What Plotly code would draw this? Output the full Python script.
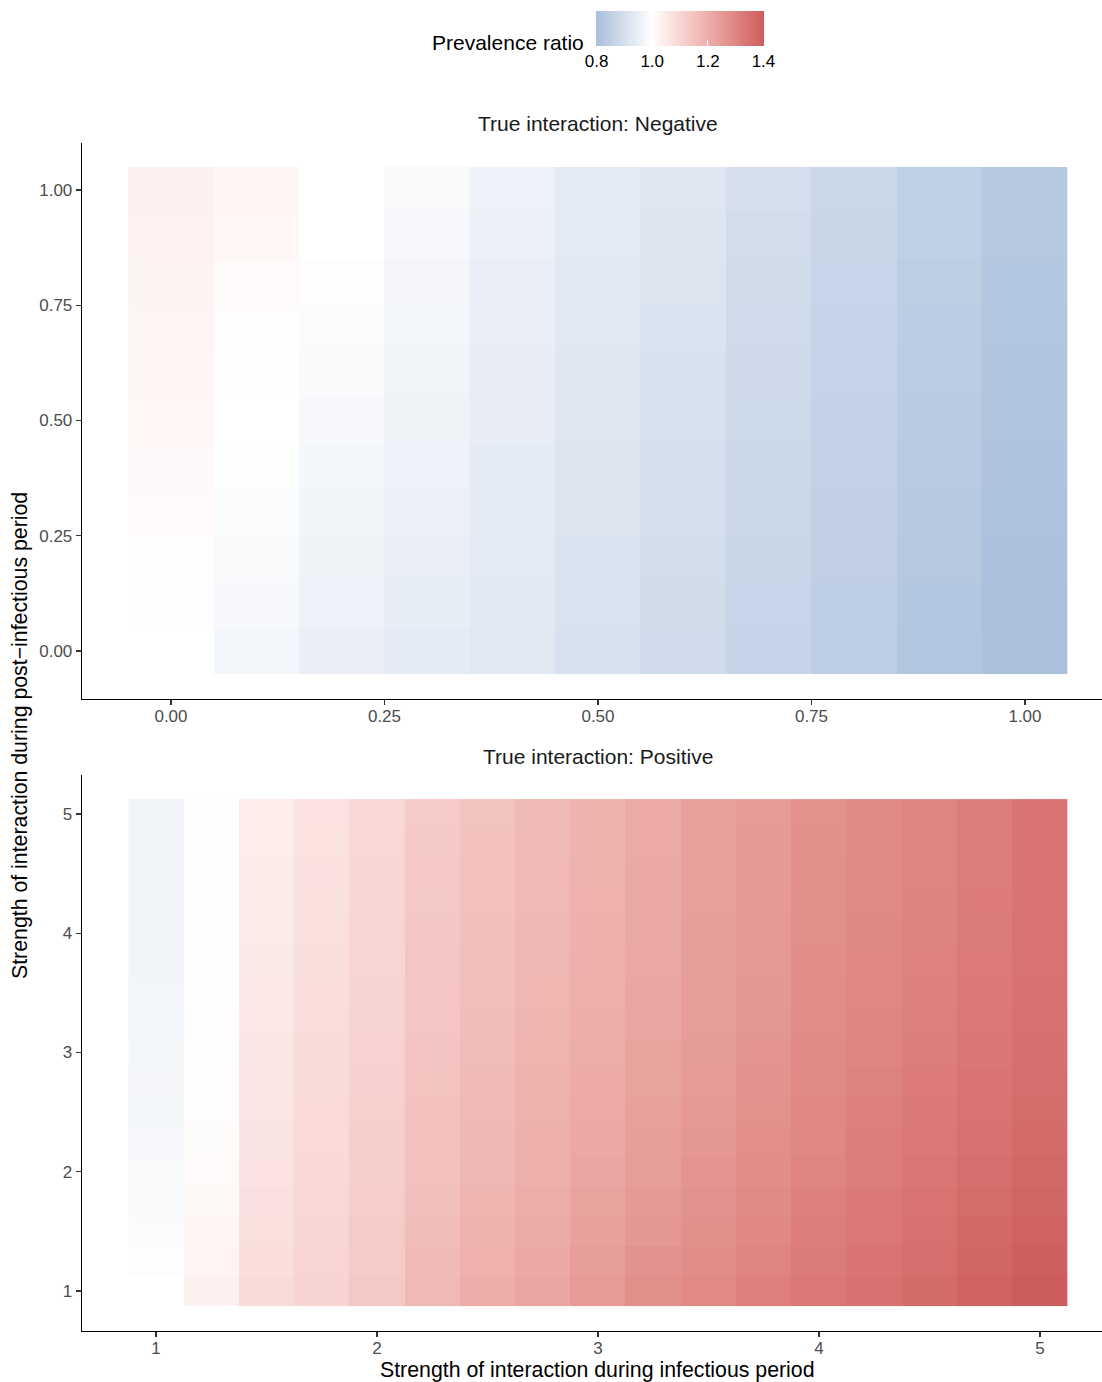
import plotly.graph_objects as go

# ---------------- data ----------------
# Top panel: True interaction Negative
neg_x = [0.0, 0.1, 0.2, 0.3, 0.4, 0.5, 0.6, 0.7, 0.8, 0.9, 1.0]
neg_y = [0.0, 0.1, 0.2, 0.3, 0.4, 0.5, 0.6, 0.7, 0.8, 0.9, 1.0]
# each list: values for one x column, from y=0.0 up to y=1.0
neg_x00 = [None, 1.004, 1.008, 1.012, 1.016, 1.020, 1.023, 1.026, 1.029, 1.032, 1.035]
neg_x01 = [0.972, 0.978, 0.984, 0.990, 0.995, 0.999, 1.003, 1.008, 1.012, 1.020, 1.023]
neg_x02 = [0.951, 0.957, 0.962, 0.967, 0.972, 0.978, 0.983, 0.988, 0.992, 1.000, 1.000]
neg_x03 = [0.940, 0.944, 0.948, 0.953, 0.957, 0.961, 0.965, 0.969, 0.973, 0.979, 0.981]
neg_x04 = [0.928, 0.931, 0.934, 0.937, 0.940, 0.943, 0.946, 0.949, 0.952, 0.955, 0.958]
neg_x05 = [0.907, 0.910, 0.913, 0.916, 0.920, 0.923, 0.927, 0.930, 0.933, 0.937, 0.940]
neg_x06 = [0.888, 0.891, 0.894, 0.898, 0.901, 0.905, 0.908, 0.912, 0.916, 0.919, 0.923]
neg_x07 = [0.865, 0.868, 0.871, 0.874, 0.877, 0.881, 0.884, 0.887, 0.891, 0.894, 0.898]
neg_x08 = [0.844, 0.847, 0.850, 0.853, 0.856, 0.859, 0.862, 0.865, 0.868, 0.871, 0.874]
neg_x09 = [0.821, 0.824, 0.827, 0.830, 0.833, 0.836, 0.839, 0.842, 0.845, 0.848, 0.851]
neg_x10 = [0.800, 0.803, 0.806, 0.809, 0.812, 0.815, 0.818, 0.821, 0.824, 0.827, 0.830]

# Bottom panel: True interaction Positive
pos_x = [1.0, 1.25, 1.5, 1.75, 2.0, 2.25, 2.5, 2.75, 3.0, 3.25, 3.5, 3.75, 4.0, 4.25, 4.5, 4.75, 5.0]
pos_y = [1.0, 1.25, 1.5, 1.75, 2.0, 2.25, 2.5, 2.75, 3.0, 3.25, 3.5, 3.75, 4.0, 4.25, 4.5, 4.75, 5.0]
# each list: values for one x column, from y=1 up to y=5
pos_x100 = [None, 0.992, 0.988, 0.984, 0.981, 0.978, 0.975, 0.973, 0.971, 0.969, 0.968, 0.967, 0.966, 0.965, 0.964, 0.964, 0.963]
pos_x125 = [1.035, 1.028, 1.022, 1.017, 1.013, 1.010, 1.008, 1.006, 1.005, 1.004, 1.003, 1.003, 1.003, 1.003, 1.003, 1.003, 1.003]
pos_x150 = [1.086, 1.082, 1.078, 1.074, 1.071, 1.068, 1.065, 1.063, 1.061, 1.059, 1.057, 1.055, 1.053, 1.051, 1.050, 1.048, 1.047]
pos_x175 = [1.108, 1.104, 1.100, 1.097, 1.094, 1.091, 1.089, 1.087, 1.085, 1.083, 1.081, 1.079, 1.077, 1.076, 1.074, 1.073, 1.072]
pos_x200 = [1.136, 1.131, 1.127, 1.123, 1.120, 1.117, 1.114, 1.112, 1.110, 1.108, 1.106, 1.104, 1.102, 1.100, 1.099, 1.097, 1.096]
pos_x225 = [1.173, 1.168, 1.163, 1.159, 1.156, 1.153, 1.150, 1.148, 1.146, 1.144, 1.142, 1.140, 1.138, 1.136, 1.134, 1.133, 1.131]
pos_x250 = [1.200, 1.194, 1.188, 1.183, 1.179, 1.175, 1.172, 1.169, 1.166, 1.163, 1.161, 1.159, 1.157, 1.155, 1.152, 1.150, 1.148]
pos_x275 = [1.222, 1.215, 1.209, 1.204, 1.199, 1.195, 1.191, 1.188, 1.185, 1.182, 1.180, 1.178, 1.176, 1.174, 1.172, 1.170, 1.168]
pos_x300 = [1.249, 1.240, 1.233, 1.226, 1.220, 1.215, 1.211, 1.207, 1.204, 1.201, 1.199, 1.197, 1.195, 1.193, 1.191, 1.189, 1.187]
pos_x325 = [1.279, 1.268, 1.259, 1.251, 1.244, 1.238, 1.233, 1.229, 1.225, 1.222, 1.220, 1.218, 1.216, 1.214, 1.212, 1.211, 1.210]
pos_x350 = [1.293, 1.284, 1.276, 1.269, 1.263, 1.258, 1.253, 1.249, 1.246, 1.243, 1.241, 1.239, 1.238, 1.237, 1.236, 1.235, 1.234]
pos_x375 = [1.313, 1.304, 1.296, 1.289, 1.283, 1.278, 1.273, 1.269, 1.265, 1.262, 1.259, 1.257, 1.255, 1.253, 1.252, 1.250, 1.249]
pos_x400 = [1.333, 1.325, 1.318, 1.311, 1.305, 1.300, 1.296, 1.292, 1.288, 1.285, 1.283, 1.281, 1.279, 1.277, 1.276, 1.275, 1.274]
pos_x425 = [1.350, 1.342, 1.335, 1.328, 1.322, 1.317, 1.312, 1.308, 1.304, 1.301, 1.298, 1.296, 1.294, 1.292, 1.291, 1.290, 1.289]
pos_x450 = [1.367, 1.359, 1.352, 1.345, 1.339, 1.333, 1.328, 1.323, 1.319, 1.315, 1.312, 1.310, 1.308, 1.306, 1.305, 1.304, 1.303]
pos_x475 = [1.387, 1.379, 1.371, 1.364, 1.357, 1.351, 1.346, 1.341, 1.337, 1.333, 1.330, 1.327, 1.325, 1.323, 1.322, 1.321, 1.320]
pos_x500 = [1.402, 1.395, 1.388, 1.381, 1.375, 1.369, 1.364, 1.359, 1.355, 1.352, 1.349, 1.347, 1.345, 1.344, 1.343, 1.343, 1.343]

neg_ticks = [0.0, 0.25, 0.5, 0.75, 1.0]
neg_ticklabels = ["0.00", "0.25", "0.50", "0.75", "1.00"]
pos_ticks = [1, 2, 3, 4, 5]
pos_ticklabels = ["1", "2", "3", "4", "5"]
cbar_ticks = [0.8, 1.0, 1.2, 1.4]
cbar_ticklabels = ["0.8", "1.0", "1.2", "1.4"]

# ---------------- colour scale (Lab interpolation, diverging at 1) ----------------
def _srgb_to_lin(c):
    c = c / 255.0
    return c / 12.92 if c <= 0.04045 else ((c + 0.055) / 1.055) ** 2.4

def _lin_to_srgb(c):
    c = max(0.0, min(1.0, c))
    v = 12.92 * c if c <= 0.0031308 else 1.055 * c ** (1 / 2.4) - 0.055
    return int(round(max(0, min(255, v * 255))))

_WX, _WY, _WZ = 0.95047, 1.0, 1.08883

def hex_to_lab(h):
    h = h.lstrip("#")
    r, g, b = (_srgb_to_lin(int(h[i:i + 2], 16)) for i in (0, 2, 4))
    X = 0.4124564 * r + 0.3575761 * g + 0.1804375 * b
    Y = 0.2126729 * r + 0.7151522 * g + 0.0721750 * b
    Z = 0.0193339 * r + 0.1191920 * g + 0.9503041 * b
    def f(t):
        return t ** (1 / 3) if t > 216 / 24389 else (24389 / 27 * t + 16) / 116
    fx, fy, fz = f(X / _WX), f(Y / _WY), f(Z / _WZ)
    return (116 * fy - 16, 500 * (fx - fy), 200 * (fy - fz))

def lab_to_rgb(L, a, b):
    fy = (L + 16) / 116
    fx = fy + a / 500
    fz = fy - b / 200
    def finv(t):
        return t ** 3 if t ** 3 > 216 / 24389 else (116 * t - 16) / (24389 / 27)
    X, Y, Z = _WX * finv(fx), _WY * finv(fy), _WZ * finv(fz)
    r = 3.2404542 * X - 1.5371385 * Y - 0.4985314 * Z
    g = -0.9692660 * X + 1.8760108 * Y + 0.0415560 * Z
    bb = 0.0556434 * X - 0.2040259 * Y + 1.0572252 * Z
    return "rgb(%d,%d,%d)" % (_lin_to_srgb(r), _lin_to_srgb(g), _lin_to_srgb(bb))

CMIN, CMAX = 0.798, 1.402
LOW_COL, MID_COL, HIGH_COL = "#a9bfdb", "#ffffff", "#cd5c5c"
lab_low, lab_mid, lab_high = hex_to_lab(LOW_COL), hex_to_lab(MID_COL), hex_to_lab(HIGH_COL)

colorscale = []
N = 60
for i in range(N + 1):
    p = i / N
    v = CMIN + p * (CMAX - CMIN)
    if v < 1.0:
        t = (1.0 - v) / (1.0 - CMIN)
        lab = [m + t * (lo - m) for m, lo in zip(lab_mid, lab_low)]
    else:
        t = (v - 1.0) / (CMAX - 1.0)
        lab = [m + t * (hi - m) for m, hi in zip(lab_mid, lab_high)]
    colorscale.append([p, lab_to_rgb(*lab)])

# ---------------- build ----------------
neg_columns = [neg_x00, neg_x01, neg_x02, neg_x03, neg_x04, neg_x05,
               neg_x06, neg_x07, neg_x08, neg_x09, neg_x10]
pos_columns = [pos_x100, pos_x125, pos_x150, pos_x175, pos_x200, pos_x225,
               pos_x250, pos_x275, pos_x300, pos_x325, pos_x350, pos_x375,
               pos_x400, pos_x425, pos_x450, pos_x475, pos_x500]
neg_z = [list(row) for row in zip(*neg_columns)]
pos_z = [list(row) for row in zip(*pos_columns)]

W, H = 1102, 1382
def px_x(p):
    return p / W
def px_y(p):
    return 1 - p / H

FONT = "Liberation Sans, Arial, Helvetica, sans-serif"

fig = go.Figure()
fig.add_trace(go.Heatmap(x=neg_x, y=neg_y, z=neg_z, coloraxis="coloraxis",
                         xaxis="x", yaxis="y", hoverongaps=False))
fig.add_trace(go.Heatmap(x=pos_x, y=pos_y, z=pos_z, coloraxis="coloraxis",
                         xaxis="x2", yaxis="y2", hoverongaps=False))

axis_common = dict(showgrid=False, zeroline=False, showline=True,
                   linecolor="black", linewidth=1.3, ticks="outside",
                   ticklen=5, tickwidth=1.1, tickcolor="#333333",
                   tickfont=dict(family=FONT, size=17, color="#4d4d4d"),
                   fixedrange=True)

fig.update_layout(
    width=W, height=H,
    margin=dict(l=0, r=0, t=0, b=0),
    paper_bgcolor="white", plot_bgcolor="white",
    font=dict(family=FONT, color="black"),
    showlegend=False,
    xaxis=dict(domain=[px_x(82), 1.0], range=[-0.1042, 1.0902], anchor="y",
               tickvals=neg_ticks, ticktext=neg_ticklabels,
               ticklabelstandoff=-4, **axis_common),
    yaxis=dict(domain=[px_y(699), px_y(143)], range=[-0.1041, 1.102], anchor="x",
               tickvals=neg_ticks, ticktext=neg_ticklabels, **axis_common),
    xaxis2=dict(domain=[px_x(82), 1.0], range=[0.6652, 5.2805], anchor="y2",
                tickvals=pos_ticks, ticktext=pos_ticklabels,
                ticklabelstandoff=-4, **axis_common),
    yaxis2=dict(domain=[px_y(1331), px_y(775)], range=[0.6646, 5.327], anchor="x2",
                tickvals=pos_ticks, ticktext=pos_ticklabels, **axis_common),
    coloraxis=dict(
        cmin=CMIN, cmax=CMAX, colorscale=colorscale,
        colorbar=dict(
            orientation="h",
            x=px_x((596 + 764) / 2), xanchor="center",
            y=px_y(11), yanchor="top",
            len=(764 - 596) / W, lenmode="fraction",
            thickness=35, thicknessmode="pixels",
            xpad=0, ypad=0, outlinewidth=0,
            tickvals=cbar_ticks, ticktext=cbar_ticklabels,
            ticks="inside", ticklen=6, tickcolor="white", tickwidth=1,
            tickfont=dict(family=FONT, size=17, color="black"),
        ),
    ),
)

annotations = [
    dict(text="Prevalence ratio", x=px_x(586), y=px_y(42), xanchor="right",
         yanchor="middle", font=dict(size=21, color="black", family=FONT)),
    dict(text="True interaction: Negative", x=px_x(598), y=px_y(124),
         xanchor="center", yanchor="middle", font=dict(size=21, color="#1a1a1a", family=FONT)),
    dict(text="True interaction: Positive", x=px_x(598), y=px_y(756),
         xanchor="center", yanchor="middle", font=dict(size=21, color="#1a1a1a", family=FONT)),
    dict(text="Strength of interaction during infectious period", x=px_x(598), y=px_y(1370),
         xanchor="center", yanchor="middle", font=dict(size=21.3, color="black", family=FONT)),
    dict(text="Strength of interaction during post\u2212infectious period", x=px_x(20), y=px_y(736),
         xanchor="center", yanchor="middle", textangle=-90,
         font=dict(size=21.3, color="black", family=FONT)),
]
for a in annotations:
    a.update(xref="paper", yref="paper", showarrow=False)
fig.update_layout(annotations=annotations)

fig.write_html(
    "out.html",
    config={"displayModeBar": False, "staticPlot": True},
    post_script="document.body.style.margin='0';document.body.style.overflow='hidden';",
)
